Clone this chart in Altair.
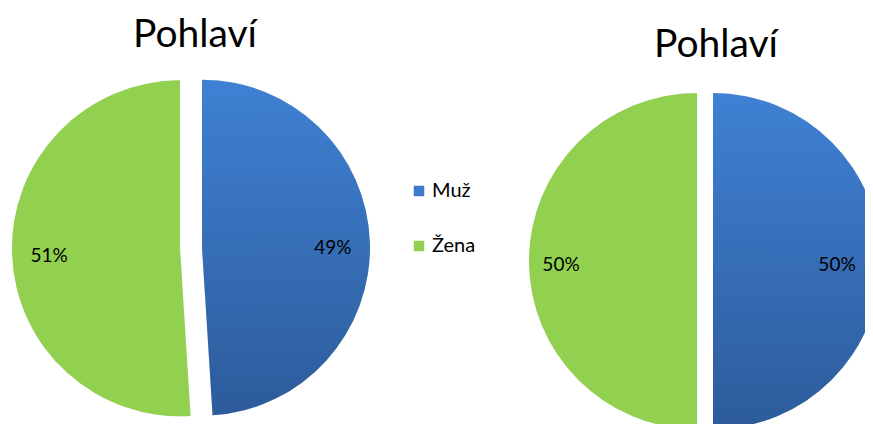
import altair as alt
import pandas as pd

categories = ["Muž", "Žena"]
left_values = [49, 51]
right_values = [50, 50]
title_text = "Pohlaví"

R = 168
BLUE_GRAD = {
    "gradient": "linear", "x1": 0, "y1": 0, "x2": 0, "y2": 1,
    "stops": [{"offset": 0, "color": "#3F81D3"}, {"offset": 1, "color": "#2D5B9B"}],
}
GREEN = "#92D050"
FONT = "Lato"


def pie(values, cx, cy, off, lab_r, tx, ty, lab_r_right=None):
    df = pd.DataFrame({"cat": categories, "val": values, "idx": list(range(len(values)))})
    lr_first = lab_r_right if lab_r_right is not None else lab_r
    base = (
        alt.Chart(df)
        .transform_window(cum="sum(val)", sort=[alt.SortField("idx")], frame=[None, 0])
        .transform_calculate(
            start="datum.cum - datum.val",
            mid="(datum.cum - datum.val / 2) / 100 * 2 * PI",
            label="datum.val + '%'",
            lr=f"datum.idx == 0 ? {lr_first} : {lab_r}",
        )
        .transform_calculate(
            ox=f"{cx} + {off} * sin(datum.mid)",
            oy=f"{cy} - {off} * cos(datum.mid)",
        )
        .transform_calculate(
            lx="datum.ox + datum.lr * sin(datum.mid)",
            ly="datum.oy - datum.lr * cos(datum.mid) + 4",
        )
    )
    enc = dict(
        theta=alt.Theta("start:Q", scale=alt.Scale(domain=[0, 100])),
        theta2="cum:Q",
        x=alt.X("ox:Q", scale=None, axis=None),
        y=alt.Y("oy:Q", scale=None, axis=None),
    )
    shadow = base.mark_arc(radius=R, fill="#000000", opacity=0.10, dx=2, dy=4).encode(**enc)
    blue = base.transform_filter(alt.datum.idx == 0).mark_arc(radius=R, fill=BLUE_GRAD).encode(**enc)
    green = base.transform_filter(alt.datum.idx == 1).mark_arc(radius=R, fill=GREEN).encode(**enc)
    labels = base.mark_text(font=FONT, fontSize=19, color="#000000", align="center", baseline="middle").encode(
        x=alt.X("lx:Q", scale=None, axis=None),
        y=alt.Y("ly:Q", scale=None, axis=None),
        text="label:N",
    )
    title = alt.Chart(pd.DataFrame({"t": [title_text]})).mark_text(
        font=FONT, fontSize=39, color="#000000", align="center", baseline="middle"
    ).encode(x=alt.value(tx), y=alt.value(ty), text="t:N")
    return [shadow, blue, green, labels, title]


legend_df = pd.DataFrame({"cat": categories, "idx": [0, 1]})
legend_base = alt.Chart(legend_df).transform_calculate(
    ly="183 + datum.idx * 55",
    col="datum.idx == 0 ? '#3C7BCB' : '" + GREEN + "'",
)
legend_sq = legend_base.mark_square(size=110, opacity=1).encode(
    x=alt.value(411),
    y=alt.Y("ly:Q", scale=None, axis=None),
    fill=alt.Fill("col:N", scale=None, legend=None),
)
legend_txt = legend_base.mark_text(font=FONT, fontSize=20, align="left", baseline="middle", color="#000000").encode(
    x=alt.value(424),
    y=alt.Y("ly:Q", scale=None, axis=None),
    text="cat:N",
)

layers = (
    pie(left_values, 183, 240, 11, 131, 187, 27)
    + pie(right_values, 697, 253, 8, 136, 708, 37, lab_r_right=124)
    + [legend_sq, legend_txt]
)

chart = alt.layer(*layers).properties(
    width=857, height=416, autosize=alt.AutoSizeParams(type="none"), padding=0
).configure_view(stroke=None)

chart.save("out.html", embed_options={"renderer": "svg", "actions": False})
